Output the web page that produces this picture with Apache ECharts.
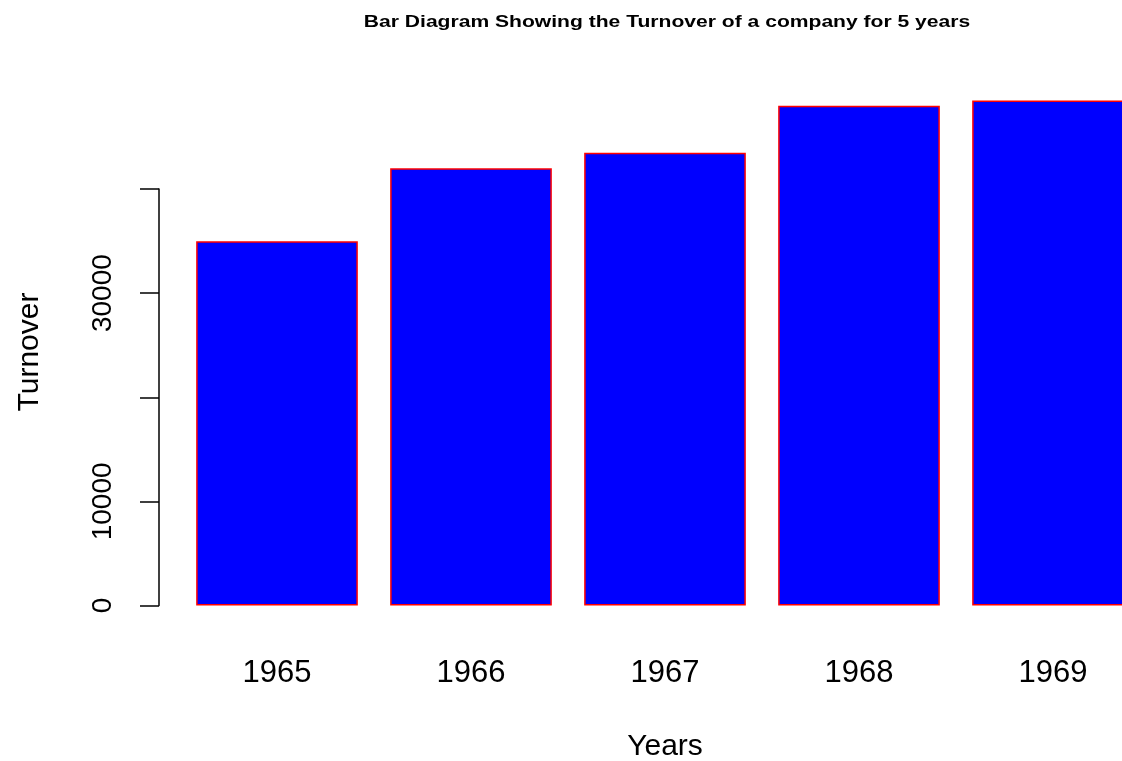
<!DOCTYPE html>
<html>
<head>
<meta charset="utf-8">
<script src="https://cdn.jsdelivr.net/npm/echarts@6/dist/echarts.min.js"></script>
<style>
  html, body { margin: 0; padding: 0; background: #fff; }
  #chart { width: 1122px; height: 761px; }
</style>
</head>
<body>
<div id="chart"></div>
<script>
// turnover per year
const years = ['1965', '1966', '1967', '1968', '1969'];
const turnover = [35000, 42000, 43500, 48000, 48500];
// R drops labels that would overlap, so only some ticks are labelled
const tickValues = [0, 10000, 20000, 30000, 40000];
const tickLabels = ['0', '10000', '', '30000', ''];

const font = 'Liberation Sans, Arial, Helvetica, sans-serif';
const chart = echarts.init(document.getElementById('chart'));

chart.setOption({
    backgroundColor: '#fff',
    animation: false,
    grid: [
        // bars
        { left: 180, right: -28, top: 85, bottom: 155.5, outerBoundsMode: 'none', containLabel: false },
        // left axis only, 0..40000
        { left: 159, width: 1, top: 189, bottom: 155.5, outerBoundsMode: 'none', containLabel: false }
    ],
    xAxis: [
        {
            gridIndex: 0, type: 'category', data: years,
            axisLine: { show: false }, axisTick: { show: false },
            axisLabel: { color: '#000', fontFamily: font, fontSize: 31, margin: 52 },
            name: 'Years', nameLocation: 'middle', nameGap: 126,
            nameTextStyle: { color: '#000', fontFamily: font, fontSize: 30 }
        },
        { gridIndex: 1, type: 'value', show: false }
    ],
    yAxis: [
        { gridIndex: 0, type: 'value', min: 0, max: 50000, show: false },
        {
            gridIndex: 1, type: 'value', min: 0, max: 40000, interval: 10000,
            axisLine: { show: true, lineStyle: { color: '#000', width: 1.5 } },
            axisTick: { show: true, length: 19, lineStyle: { color: '#000', width: 1.5 } },
            splitLine: { show: false },
            axisLabel: {
                color: '#000', fontFamily: font, fontSize: 28, rotate: 90, margin: 42,
                formatter: v => tickLabels[tickValues.indexOf(v)] || ''
            }
        }
    ],
    graphic: [
        {
            type: 'text', x: 667, y: 22, scaleX: 1.24,
            style: {
                text: 'Bar Diagram Showing the Turnover of a company for 5 years',
                fill: '#000', font: 'bold 17px ' + font,
                textAlign: 'center', textVerticalAlign: 'middle'
            }
        },
        {
            type: 'text', x: 30, y: 352, rotation: Math.PI / 2,
            style: {
                text: 'Turnover', fill: '#000', font: '30px ' + font,
                textAlign: 'center', textVerticalAlign: 'middle'
            }
        }
    ],
    series: [{
        type: 'bar', xAxisIndex: 0, yAxisIndex: 0,
        data: turnover,
        barCategoryGap: '16.67%',
        itemStyle: { color: '#0000ff', borderColor: '#ff0000', borderWidth: 1.5 }
    }]
});
</script>
</body>
</html>
